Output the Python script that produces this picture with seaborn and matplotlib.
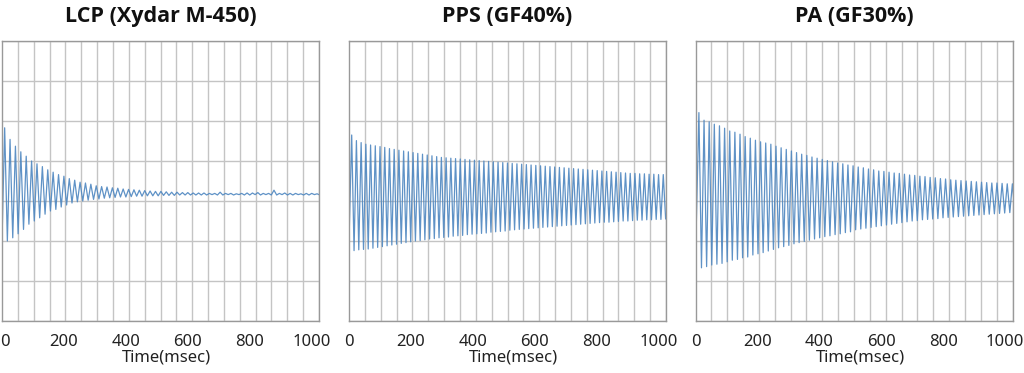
import numpy as np
import pandas as pd
import matplotlib
matplotlib.use("Agg")
import matplotlib.pyplot as plt
import matplotlib.transforms as mtransforms
from matplotlib import font_manager
import seaborn as sns

# ---------------- data ----------------
titles = ["LCP (Xydar M-450)", "PPS (GF40%)", "PA (GF30%)"]
x_label = "Time(msec)"
x_tick_values = [0, 200, 400, 600, 800, 1000]

# period of oscillation (msec) and time of first upper peak (msec)
lcp_period, lcp_first_peak = 17.4, 8.6
pps_period, pps_first_peak = 15.25, 8.7
pa_period, pa_first_peak = 16.6, 11.0

# starting value at t = 0
lcp_start, pps_start, pa_start = -1.00, -1.00, -1.45

# upper and lower extremes of each cycle
lcp_upper = [1.83, 1.54, 1.37, 1.23, 1.12, 1.00, 0.93, 0.86, 0.78, 0.72,
             0.66, 0.62, 0.56, 0.52, 0.47, 0.45, 0.42, 0.38, 0.36, 0.35,
             0.33, 0.32, 0.30, 0.29, 0.28, 0.27, 0.26, 0.25, 0.24, 0.24,
             0.23, 0.22, 0.22, 0.21, 0.21, 0.20, 0.20, 0.20, 0.19, 0.19,
             0.22, 0.19, 0.19, 0.18, 0.19, 0.20, 0.20, 0.21, 0.19, 0.19,
             0.27, 0.19, 0.20, 0.19, 0.19, 0.18, 0.19, 0.19, 0.18]
lcp_lower = [-1.00, -0.92, -0.82, -0.71, -0.58, -0.50, -0.42, -0.33, -0.25, -0.21,
             -0.15, -0.10, -0.05, -0.02, 0.00, 0.02, 0.04, 0.05, 0.07, 0.08,
             0.09, 0.10, 0.10, 0.11, 0.12, 0.12, 0.13, 0.13, 0.13, 0.14,
             0.14, 0.14, 0.15, 0.15, 0.15, 0.15, 0.15, 0.15, 0.16, 0.15,
             0.15, 0.16, 0.15, 0.16, 0.15, 0.15, 0.16, 0.15, 0.16, 0.15,
             0.15, 0.16, 0.15, 0.15, 0.16, 0.15, 0.15, 0.16, 0.15]

pps_upper = [1.65, 1.51, 1.46, 1.42, 1.40, 1.38, 1.36, 1.34, 1.31, 1.29,
             1.27, 1.25, 1.23, 1.21, 1.19, 1.17, 1.15, 1.13, 1.11, 1.09,
             1.08, 1.07, 1.06, 1.05, 1.04, 1.03, 1.02, 1.01, 1.00, 0.99,
             0.98, 0.97, 0.96, 0.95, 0.94, 0.93, 0.92, 0.91, 0.90, 0.89,
             0.88, 0.87, 0.86, 0.85, 0.84, 0.83, 0.82, 0.81, 0.80, 0.79,
             0.78, 0.77, 0.76, 0.75, 0.74, 0.73, 0.72, 0.71, 0.70, 0.69,
             0.69, 0.68, 0.68, 0.67, 0.67, 0.66, 0.66]
pps_lower = [-1.24, -1.22, -1.21, -1.20, -1.18, -1.16, -1.14, -1.12, -1.10, -1.08,
             -1.06, -1.04, -1.02, -1.00, -0.99, -0.97, -0.95, -0.94, -0.92, -0.91,
             -0.90, -0.88, -0.87, -0.86, -0.84, -0.83, -0.82, -0.81, -0.80, -0.78,
             -0.77, -0.76, -0.75, -0.73, -0.72, -0.71, -0.70, -0.69, -0.68, -0.67,
             -0.66, -0.65, -0.64, -0.63, -0.62, -0.61, -0.60, -0.59, -0.58, -0.57,
             -0.56, -0.55, -0.54, -0.53, -0.53, -0.52, -0.51, -0.50, -0.50, -0.49,
             -0.48, -0.48, -0.47, -0.47, -0.46, -0.46, -0.45]

pa_upper = [2.21, 2.02, 1.98, 1.92, 1.88, 1.82, 1.75, 1.72, 1.67, 1.61,
            1.57, 1.52, 1.48, 1.45, 1.42, 1.37, 1.33, 1.29, 1.25, 1.21,
            1.17, 1.14, 1.10, 1.07, 1.04, 1.01, 0.98, 0.95, 0.93, 0.90,
            0.88, 0.85, 0.83, 0.80, 0.78, 0.75, 0.74, 0.72, 0.70, 0.69,
            0.67, 0.65, 0.64, 0.62, 0.61, 0.59, 0.58, 0.56, 0.55, 0.53,
            0.52, 0.51, 0.50, 0.49, 0.48, 0.47, 0.46, 0.45, 0.45, 0.44,
            0.43, 0.43]
pa_lower = [-1.67, -1.64, -1.60, -1.58, -1.56, -1.52, -1.48, -1.46, -1.42, -1.40,
            -1.35, -1.32, -1.29, -1.25, -1.21, -1.17, -1.14, -1.11, -1.07, -1.04,
            -1.01, -0.98, -0.95, -0.92, -0.89, -0.87, -0.84, -0.82, -0.79, -0.77,
            -0.72, -0.70, -0.68, -0.66, -0.64, -0.62, -0.60, -0.58, -0.56, -0.54,
            -0.52, -0.50, -0.49, -0.47, -0.46, -0.45, -0.44, -0.42, -0.41, -0.40,
            -0.39, -0.38, -0.37, -0.36, -0.35, -0.34, -0.33, -0.32, -0.31, -0.30,
            -0.29, -0.28]


def build_frame(start, first_peak, period, upper, lower):
    times = [0.0]
    values = [start]
    for i, (u, l) in enumerate(zip(upper, lower)):
        times.append(first_peak + i * period)
        values.append(u)
        times.append(first_peak + (i + 0.5) * period)
        values.append(l)
    return pd.DataFrame({"t": times, "v": values})


frames = [
    build_frame(lcp_start, lcp_first_peak, lcp_period, lcp_upper, lcp_lower),
    build_frame(pps_start, pps_first_peak, pps_period, pps_upper, pps_lower),
    build_frame(pa_start, pa_first_peak, pa_period, pa_upper, pa_lower),
]

# ---------------- style ----------------
sns.set_theme(style="white")
plt.rcParams["font.family"] = ["Noto Sans", "DejaVu Sans"]


def pick_bold_family():
    for fam in ["Noto Sans", "Open Sans", "Lato", "Roboto", "DejaVu Sans"]:
        for f in font_manager.fontManager.ttflist:
            if f.name == fam and (f.weight in (700, "bold") or
                                  (isinstance(f.weight, int) and f.weight >= 600)):
                return fam
    return "DejaVu Sans"


title_family = pick_bold_family()

W, H = 1024, 373
fig = plt.figure(figsize=(W / 100, H / 100), dpi=100)

lefts = [2, 349, 695.5]
ax_w = 317
ax_top, ax_bot = 41, 321

line_color = "#4d86c0"
grid_color = "#c4c4c4"
spine_color = "#999999"

for k, (left, title, df) in enumerate(zip(lefts, titles, frames)):
    ax = fig.add_axes([left / W, 1 - ax_bot / H, ax_w / W, (ax_bot - ax_top) / H])
    sns.lineplot(data=df, x="t", y="v", ax=ax, color=line_color,
                 linewidth=0.9, alpha=0.9, estimator=None, sort=False)
    ax.set_xlim(0, 1024)
    ax.set_ylim(-3, 4)
    ax.set_xticks(x_tick_values)
    ax.set_xticklabels([str(v) for v in x_tick_values], fontsize=12, color="#222222")
    ax.set_xticks(np.arange(0, 1024.1, 51.2), minor=True)
    ax.set_yticks(np.arange(-3, 4.1, 1))
    ax.set_yticklabels([])
    ax.tick_params(axis="both", which="both", length=0, pad=9)
    ax.grid(False)
    ax.grid(True, which="minor", axis="x", color=grid_color, linewidth=1.0)
    ax.grid(True, which="major", axis="y", color=grid_color, linewidth=1.0)
    ax.set_axisbelow(True)
    for s in ax.spines.values():
        s.set_color(spine_color)
        s.set_linewidth(1.0)
        s.set_visible(True)
    ax.set_xlabel(x_label, fontsize=12, color="#222222", labelpad=0, x=0.52)
    ax.set_ylabel("")
    ax.set_title(title, fontsize=15.5, fontweight="bold", family=[title_family, "DejaVu Sans"],
                 color="#111111", pad=14)
    if k == 0:
        first = ax.get_xticklabels()[0]
        first.set_transform(first.get_transform() +
                            mtransforms.ScaledTranslation(2.5 / 100, 0, fig.dpi_scale_trans))

fig.savefig("out.png", dpi=100)
